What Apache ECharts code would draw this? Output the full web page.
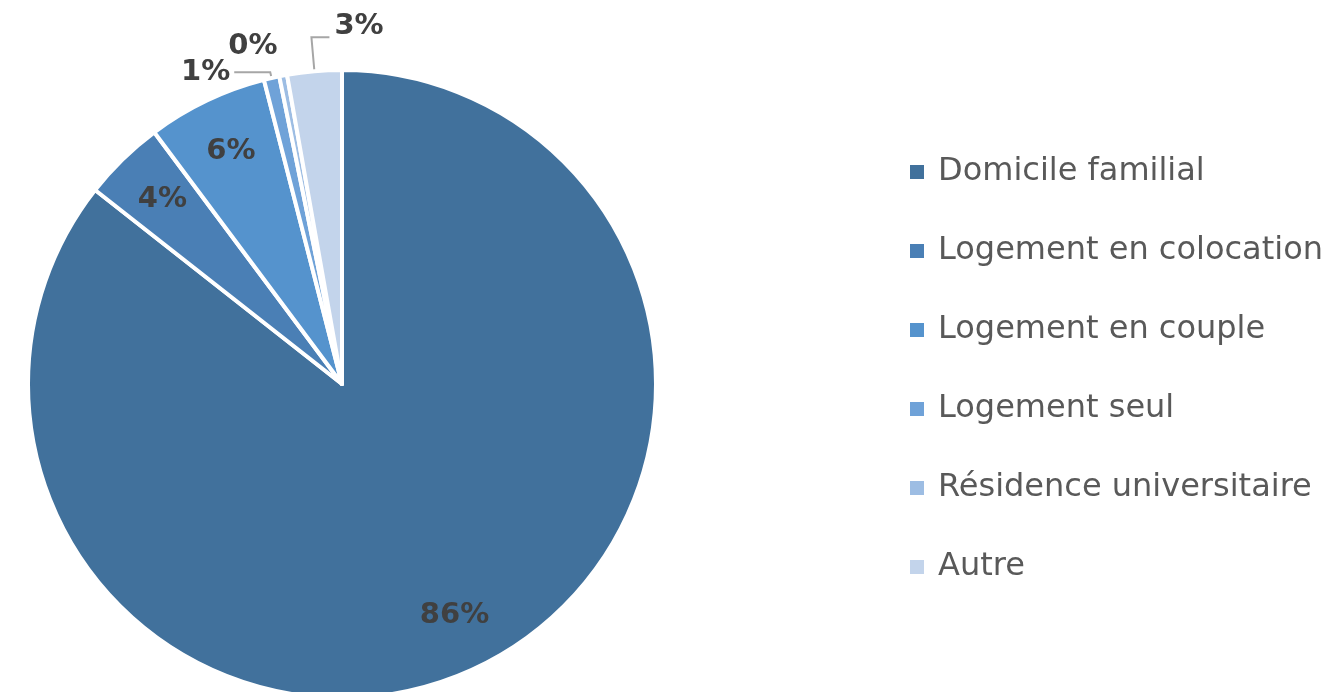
<!DOCTYPE html>
<html><head><meta charset="utf-8">
<script src="https://cdn.jsdelivr.net/npm/echarts@6/dist/echarts.min.js"></script>
<style>html,body{margin:0;padding:0;background:#fff}#c{width:1340px;height:692px}</style>
</head><body><div id="c"></div>
<script>
const categories = ['Domicile familial','Logement en colocation','Logement en couple','Logement seul','Résidence universitaire','Autre'];
const values = [85.6, 4.2, 6.2, 0.8, 0.4, 2.8];
const colors = ['#41719c','#4a7fb5','#5593cd','#6fa2d8','#9dbde3','#c3d4eb'];
const insideLabel = [true, true, true, false, false, false];
const showLine = [false, false, false, true, false, true];
const lineLen = [0, 0, 0, 6, 30, 34];
const lineLen2 = [0, 0, 0, 36, 0, 18];
const flipRight = [false, false, false, false, false, true];

const chart = echarts.init(document.getElementById('c'), null, {renderer:'canvas'});
const LFONT = '"DejaVu Sans", sans-serif';
const R = 314, CX = 342, CY = 384;
const fmt = p => Math.round(p.value) + '%';

chart.setOption({
  animation: false,
  color: colors,
  legend: {
    orient: 'vertical', left: 903, top: 151,
    itemWidth: 16, itemHeight: 16, itemGap: 47, icon: 'rect',
    textStyle: {fontFamily: LFONT, fontSize: 32, lineHeight: 32, color: '#595959', padding: [0,0,0,8]},
    data: categories
  },
  series: [
    {
      type: 'pie', center: [CX, CY], radius: [0, R], startAngle: 90, clockwise: true,
      avoidLabelOverlap: false, silent: true,
      itemStyle: {borderColor: '#fff', borderWidth: 4},
      label: {show: true, position: 'outside', formatter: fmt, fontFamily: LFONT, fontSize: 29, fontWeight: 'bold', color: '#404040', distanceToLabelLine: 4},
      labelLine: {show: true, lineStyle: {color: '#a6a6a6', width: 2}},
      labelLayout: function (p) {
        if (!flipRight[p.dataIndex] || !p.labelLinePoints) return {hideOverlap: false};
        const pts = p.labelLinePoints;
        const len2 = lineLen2[p.dataIndex];
        const x1 = pts[1][0], y1 = pts[1][1];
        return {
          hideOverlap: false,
          x: x1 + len2 + 5, y: y1 + 4, align: 'left', verticalAlign: 'bottom',
          labelLinePoints: [pts[0], [x1, y1], [x1 + len2, y1]]
        };
      },
      data: categories.map((n, i) => ({
        name: n, value: values[i],
        label: {show: !insideLabel[i], distanceToLabelLine: showLine[i] ? 4 : 0},
        labelLine: {show: showLine[i], length: lineLen[i], length2: lineLen2[i]}
      }))
    },
    {
      type: 'pie', center: [CX, CY], radius: [R * 0.62, R], startAngle: 90, clockwise: true,
      silent: true, legendHoverLink: false,
      itemStyle: {color: 'rgba(0,0,0,0)', borderWidth: 0},
      label: {show: true, position: 'inside', formatter: fmt, fontFamily: LFONT, fontSize: 29, fontWeight: 'bold', color: '#404040'},
      labelLine: {show: false},
      data: categories.map((n, i) => ({name: n + ' ', value: values[i], label: {show: insideLabel[i]}}))
    }
  ]
});
</script></body></html>
